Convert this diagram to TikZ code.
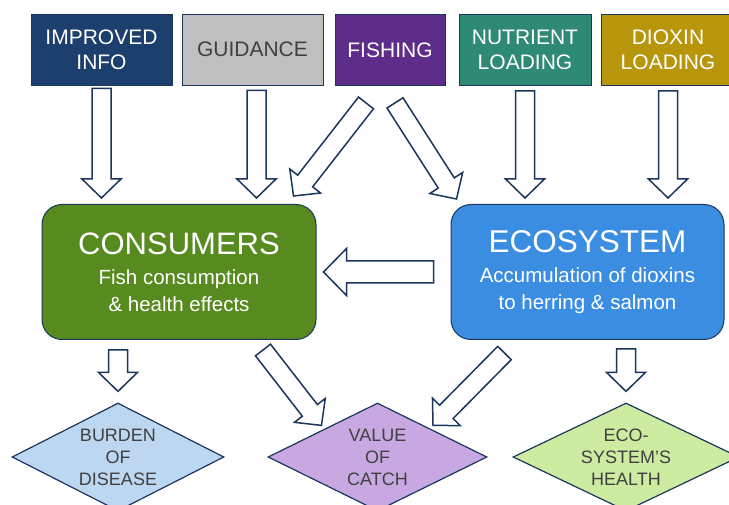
\documentclass[tikz,border=0pt]{standalone}
\usepackage{fontspec}
\setmainfont{Liberation Sans}
\usetikzlibrary{shapes.geometric, calc, positioning}

\definecolor{outline}{HTML}{1B365D}
\definecolor{infoblue}{HTML}{1D3F6E}
\definecolor{guidegray}{HTML}{BFBFBF}
\definecolor{fishpurple}{HTML}{5E2D8A}
\definecolor{nutrteal}{HTML}{2F8A74}
\definecolor{dioxgold}{HTML}{B8960C}
\definecolor{consgreen}{HTML}{578A1F}
\definecolor{ecoblue}{HTML}{3A8DE1}
\definecolor{burdenblue}{HTML}{BDD7F1}
\definecolor{valuelilac}{HTML}{C8A8E0}
\definecolor{healthgreen}{HTML}{CDEBA1}
\definecolor{darktext}{HTML}{404040}

\tikzset{
  topbox/.style={rectangle, draw=outline, line width=0.8pt, minimum height=71pt,
    text=white, align=center, font=\fontsize{21}{25}\selectfont},
  mainbox/.style={rectangle, rounded corners=20pt, draw=outline, line width=1pt,
    minimum width=274pt, minimum height=135pt, text=white, align=center,
    font=\fontsize{20.5}{27}\selectfont},
  outcome/.style={diamond, draw=outline, line width=1.2pt, minimum width=212pt,
    minimum height=108pt, inner sep=0pt},
  outtext/.style={text=darktext, align=center, font=\fontsize{18}{22}\selectfont},
  % hollow block arrow: shaft half width, head half width, head length
  blockarrow/.style n args={3}{draw=outline, fill=white, line width=1.5pt, line join=miter,
    to path={(\tikztotarget) coordinate (tip) (\tikztostart) coordinate (tail)
      ($(tip)!#3!(tail)$) coordinate (neck)
      ($(tail)!#1!90:(tip)$) -- ($(neck)!#1!90:(tip)$) -- ($(neck)!#2!90:(tip)$)
      -- (tip) -- ($(neck)!#2!-90:(tip)$) -- ($(neck)!#1!-90:(tip)$)
      -- ($(tail)!#1!-90:(tip)$) -- cycle}},
  arrowsmall/.style={blockarrow={9.5pt}{19.5pt}{19pt}},
  arrowwide/.style={blockarrow={11pt}{23.5pt}{23pt}},
}

\begin{document}
\begin{tikzpicture}[x=1pt, y=-1pt]
  \useasboundingbox (0,0) rectangle (729,505);
  \clip (0,0) rectangle (729,505);

  % drivers
  \node[topbox, fill=infoblue, minimum width=141pt] (info) at (101.5,49.5) {IMPROVED\\INFO};
  \node[topbox, fill=guidegray, text=darktext, minimum width=141pt] (guide) at (252.5,49.5) {GUIDANCE};
  \node[topbox, fill=fishpurple, minimum width=110pt] (fish) at (390,50) {FISHING};
  \node[topbox, fill=nutrteal, minimum width=132pt] (nutr) at (525,50) {NUTRIENT\\LOADING};
  \node[topbox, fill=dioxgold, minimum width=134pt] (diox) at (668,50) {DIOXIN\\LOADING};

  % sub-models
  \node[mainbox, fill=consgreen] (cons) at (179,272)
    {{\fontsize{31}{34}\selectfont CONSUMERS}\\[3pt]Fish consumption\\\& health effects};
  \node[mainbox, fill=ecoblue, minimum width=273pt] (eco) at (587.5,272)
    {{\fontsize{31.5}{34}\selectfont ECOSYSTEM}\\[3pt]Accumulation of dioxins\\to herring \& salmon};

  % outcomes
  \node[outcome, fill=burdenblue, label={[outtext]center:BURDEN\\OF\\DISEASE}] (burden) at (118,457) {};
  \node[outcome, fill=valuelilac, minimum width=219pt, label={[outtext]center:VALUE\\OF\\CATCH}] (value) at (377.5,457) {};
  \node[outcome, fill=healthgreen, minimum width=226pt, label={[outtext]center:ECO-\\SYSTEM'S\\HEALTH}] (health) at (626,457) {};

  % arrows
  \draw[arrowsmall] ($(info.south)+(0,3)$) to ($(info.south |- cons.north)+(0,-6)$);
  \draw[arrowsmall] ($(guide.south)+(4,5)$) to ($(guide.south |- cons.north)+(4,-6)$);
  \draw[arrowsmall] ($(fish.south)+(-24,17)$) to ($(cons.north east)+(-23,-8)$);
  \draw[arrowsmall] ($(fish.south)+(5,17)$) to ($(eco.north west)+(6,-5)$);
  \draw[arrowsmall] ($(nutr.south)+(0,5)$) to ($(nutr.south |- eco.north)+(0,-6)$);
  \draw[arrowsmall] ($(diox.south)+(0,5)$) to ($(diox.south |- eco.north)+(0,-6)$);
  \draw[arrowwide] ($(eco.west)+(-17,0)$) to ($(cons.east)+(7,0)$);
  \draw[arrowsmall] ($(burden.north |- cons.south)+(0,10)$) to ($(burden.north)+(0,-11)$);
  \draw[arrowsmall] ($(cons.south)+(84,10)$) to ($(value.north)+(-56,23)$);
  \draw[arrowsmall] ($(eco.south)+(-83,13)$) to ($(value.north)+(55.5,23)$);
  \draw[arrowsmall] ($(health.north |- eco.south)+(0,9)$) to ($(health.north)+(0,-11)$);
\end{tikzpicture}
\end{document}
